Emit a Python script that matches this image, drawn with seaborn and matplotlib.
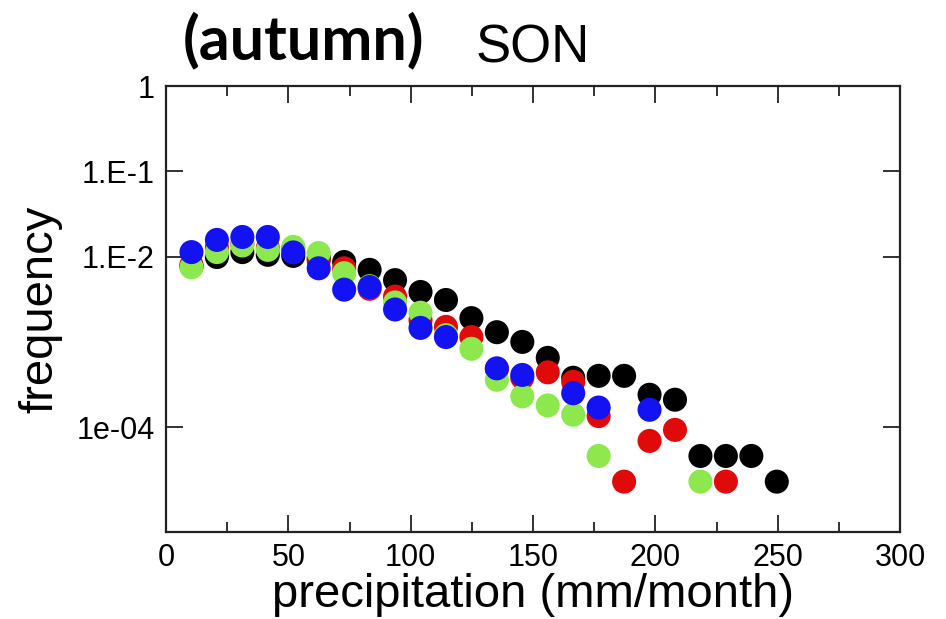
import numpy as np
import pandas as pd
import matplotlib
matplotlib.use("Agg")
import matplotlib.pyplot as plt
import seaborn as sns

# bin centres (mm/month)
precip = [10.4, 20.8, 31.2, 41.6, 52.0, 62.4, 72.8, 83.2, 93.6, 104.0, 114.4, 124.8,
          135.2, 145.6, 156.0, 166.4, 176.8, 187.2, 197.6, 208.0, 218.4, 228.8, 239.2, 249.6]

nan = np.nan
freq_black = [0.0077, 0.0099, 0.0113, 0.0105, 0.0102, 0.0096, 0.00865, 0.0070, 0.0053, 0.00385,
              0.0031, 0.0019, 0.0013, 0.0010, 0.00065, 0.00038, 0.00040, 0.00040, 0.00024,
              0.00021, 4.6e-5, 4.6e-5, 4.6e-5, 2.3e-5]
freq_red = [0.0080, 0.0128, 0.0140, 0.0126, 0.0125, 0.0090, 0.0073, 0.0042, 0.0034, 0.0018,
            0.0015, 0.00114, 0.00048, 0.00038, 0.00044, 0.00034, 0.000135, 2.3e-5, 6.9e-5,
            9.3e-5, nan, 2.3e-5, nan, nan]
freq_green = [0.0075, 0.0113, 0.0135, 0.0120, 0.0130, 0.0110, 0.0064, 0.0045, 0.0029, 0.0022,
              0.0012, 0.00083, 0.00036, 0.00023, 0.00018, 0.00014, 4.6e-5, nan, nan, nan,
              2.3e-5, nan, nan, nan]
freq_blue = [0.0113, 0.0157, 0.0170, 0.0170, 0.0112, 0.0073, 0.0041, 0.0044, 0.0024, 0.00146,
             0.00114, nan, 0.00049, 0.00041, nan, 0.00025, 0.00017, nan, 0.00016, nan,
             nan, nan, nan, nan]

series = {"black": freq_black, "red": freq_red, "green": freq_green, "blue": freq_blue}
palette = {"black": "#000000", "red": "#e00a0a", "green": "#8ce84c", "blue": "#1212f2"}

rows = []
for name, vals in series.items():
    for x, y in zip(precip, vals):
        rows.append({"precip": x, "freq": y, "run": name})
df = pd.DataFrame(rows).dropna()

sns.set_style("white")
plt.rcParams['font.family'] = ['Liberation Sans', 'DejaVu Sans']
plt.rcParams['text.color'] = 'black'
plt.rcParams['axes.labelcolor'] = 'black'

fig = plt.figure(figsize=(9.46, 6.19), dpi=100)
ax = fig.add_axes([0.1755, 0.1405, 0.776, 0.7205])

# draw order black -> red -> green -> blue, as in the original
sns.scatterplot(data=df, x="precip", y="freq", hue="run", hue_order=list(series.keys()),
                palette=palette, s=300, linewidth=0, alpha=1, legend=False, ax=ax)

ax.set_yscale("log")
ax.set_xlim(0, 300)
ax.set_ylim(5.9e-6, 1)
ax.set_yticks([1e-4, 1e-2, 1e-1, 1])
ax.set_yticklabels(["1e-04", "1.E-2", "1.E-1", "1"])
ax.yaxis.set_minor_locator(matplotlib.ticker.NullLocator())
ax.set_xticks([0, 50, 100, 150, 200, 250, 300])
ax.set_xticks(np.arange(25, 300, 50), minor=True)

ax.tick_params(axis="both", which="major", direction="in", length=12, width=1.3,
               labelsize=22, left=True, bottom=True, top=True, right=True, pad=8,
               color="#222222", labelcolor="black")
ax.tick_params(axis="x", which="minor", direction="in", length=7, width=1.3,
               bottom=True, top=True, color="#222222")
for sp in ax.spines.values():
    sp.set_linewidth(1.6)
    sp.set_color("#222222")

ax.set_xlabel("precipitation (mm/month)", fontsize=34, labelpad=0)
ax.set_ylabel("frequency", fontsize=34, labelpad=10)

fig.text(0.193, 0.935, "(autumn)", family=["Lato", "DejaVu Sans"], fontweight="bold",
         fontsize=44, va="center", ha="left")
fig.text(0.503, 0.922, "SON", fontsize=38, va="center", ha="left")

fig.savefig("out.png", dpi=100)
